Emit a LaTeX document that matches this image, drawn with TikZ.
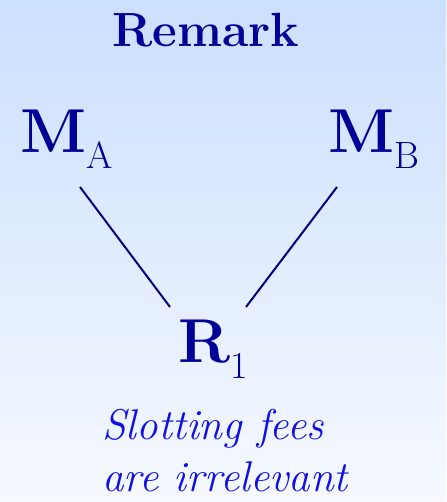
\documentclass[tikz,border=0pt]{standalone}
\usepackage{fontspec}
\usetikzlibrary{calc}
\definecolor{marino}{HTML}{000096}
\definecolor{trazo}{HTML}{00007F}
\definecolor{azulnota}{HTML}{1010E6}
\definecolor{cielo}{HTML}{CBDFFE}
\definecolor{nieve}{HTML}{F6F9FF}
\newcommand{\agente}[2]{\textbf{#1}\raisebox{-16pt}{\fontsize{38}{40}\selectfont\mdseries #2}}

\begin{document}
\begin{tikzpicture}[x=1pt,y=1pt,
    firma/.style={inner sep=0pt,anchor=base west,text=marino,
      font=\fontsize{62}{66}\selectfont},
    enlace/.style={trazo,line width=2pt}]
  \shade[top color=cielo,bottom color=nieve] (0,0) rectangle (446,502);
  \useasboundingbox (0,0) rectangle (446,502);
  \node[inner sep=0pt,anchor=base,text=marino,
    font=\fontsize{48}{52}\selectfont\bfseries] (titulo) at (206,455) {Remark};
  \node[firma] (MA) at (20,349) {\agente{M}{A}};
  \node[firma] (MB) at (328,349) {\agente{M}{B}};
  \node[firma] (R1) at (178,139) {\agente{R}{1}};
  \draw[enlace] ([shift={(60,-34)}]MA.base west) -- ([shift={(-8,56)}]R1.base west);
  \draw[enlace] ([shift={(9,-34)}]MB.base west) -- ([shift={(68,56)}]R1.base west);
  \node[inner sep=0pt,anchor=base west,align=left,text=azulnota,
    font=\fontsize{43}{52}\selectfont\itshape] (nota) at (102,10)
    {Slotting fees\\are irrelevant};
\end{tikzpicture}
\end{document}
